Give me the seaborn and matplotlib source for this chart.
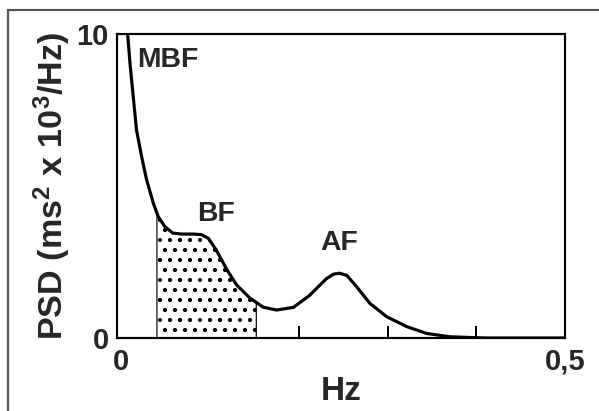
import numpy as np
import pandas as pd
import matplotlib
matplotlib.use('Agg')
import matplotlib.pyplot as plt
import seaborn as sns
from matplotlib.lines import Line2D

# PSD curve (Hz, ms^2 x 10^3/Hz)
freq = [0.007, 0.0096, 0.0133, 0.017, 0.0228, 0.0284, 0.036, 0.0415, 0.049, 0.058,
        0.068, 0.081, 0.090, 0.098, 0.107, 0.119, 0.130, 0.145, 0.160, 0.175,
        0.194, 0.212, 0.231, 0.239, 0.246, 0.254, 0.265, 0.280, 0.299, 0.322,
        0.344, 0.370, 0.410, 0.500]
psd = [10.0, 9.05, 7.94, 6.84, 5.96, 5.20, 4.43, 3.99, 3.66, 3.45,
       3.42, 3.42, 3.40, 3.28, 2.89, 2.24, 1.74, 1.31, 1.01, 0.92,
       1.01, 1.40, 1.95, 2.10, 2.13, 2.06, 1.69, 1.14, 0.70, 0.37,
       0.15, 0.04, 0.0, 0.0]

# shaded BF band edges and curve heights there
band_edges = [0.040, 0.152]
band_edge_psd = [4.05, 1.15]

band_labels = ['MBF', 'BF', 'AF']
band_label_x = [0.0175, 0.085, 0.224]
band_label_y = [9.14, 4.08, 3.12]

xtick_vals = [0, 0.5]
xtick_labels = ['0', '0,5']
xminor_vals = [0.1, 0.2, 0.3, 0.4]

df = pd.DataFrame({'Hz': freq, 'PSD': psd})

sns.set_style('white')
plt.rcParams['font.family'] = ['Liberation Sans', 'DejaVu Sans']
plt.rcParams['font.weight'] = 'bold'
plt.rcParams['mathtext.default'] = 'regular'
plt.rcParams['hatch.linewidth'] = 1.3

fig = plt.figure(figsize=(599 / 120, 411 / 120), dpi=120)
ax = fig.add_axes([117 / 599, 1 - 338 / 411, 448 / 599, 304 / 411])

sns.lineplot(data=df, x='Hz', y='PSD', ax=ax, color='black', linewidth=1.9)

# dotted BF area
sel = df[(df['Hz'] > band_edges[0]) & (df['Hz'] < band_edges[1])]
sx = [band_edges[0]] + sel['Hz'].tolist() + [band_edges[1]]
sy = [band_edge_psd[0]] + sel['PSD'].tolist() + [band_edge_psd[1]]
ax.fill_between(sx, 0, sy, facecolor='white', edgecolor='black', hatch='..', linewidth=0.7)

for lab, lx, ly in zip(band_labels, band_label_x, band_label_y):
    ax.text(lx, ly, lab, ha='left', va='center', fontsize=17, fontweight='bold')

ax.set_xlim(-0.005, 0.5)
ax.set_ylim(0, 10)
ax.set_xticks(xtick_vals)
ax.set_xticklabels(xtick_labels, fontsize=17.5, fontweight='bold')
ax.set_xticks(xminor_vals, minor=True)
ax.set_yticks([0, 10])
ax.set_yticklabels(['0', '10'], fontsize=17.5, fontweight='bold')
ax.tick_params(axis='x', which='major', bottom=True, length=0, pad=6)
ax.tick_params(axis='x', which='minor', bottom=True, direction='in', length=7, width=1.2, color='black')
ax.tick_params(axis='y', left=True, length=0, pad=5)
for s in ax.spines.values():
    s.set_visible(True)
    s.set_color('black')
    s.set_linewidth(1.3)

ax.set_xlabel('Hz', fontsize=20, fontweight='bold', labelpad=0)
ax.set_ylabel('PSD (ms$^{2}$ x 10$^{3}$/Hz)', fontsize=20.5, fontweight='bold', labelpad=2)

# partial frame around the figure (top and left edges)
fig.add_artist(Line2D([8 / 599, 1.0], [1 - 10 / 411, 1 - 10 / 411], transform=fig.transFigure,
                      color='#555555', linewidth=1.3))
fig.add_artist(Line2D([8 / 599, 8 / 599], [0.0, 1 - 10 / 411], transform=fig.transFigure,
                      color='#555555', linewidth=1.3))

fig.savefig('out.png', dpi=120)
